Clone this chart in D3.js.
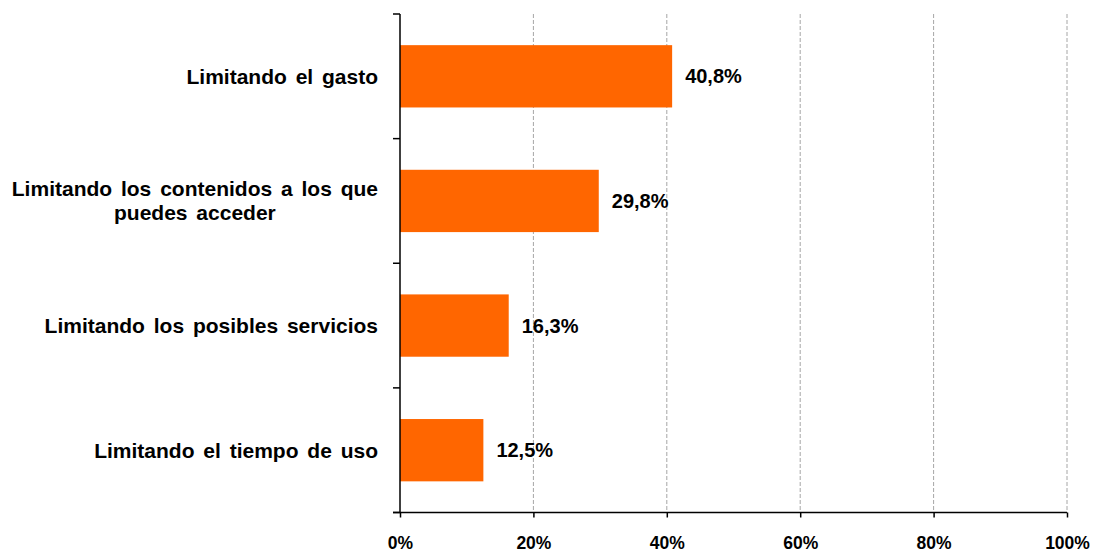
<!DOCTYPE html>
<html>
<head>
<meta charset="utf-8">
<script src="https://cdn.jsdelivr.net/npm/d3@7"></script>
<style>
  html, body { margin: 0; padding: 0; background: #fff; }
  svg { display: block; font-family: "Liberation Sans", Arial, sans-serif; }
</style>
</head>
<body>
<svg id="chart" width="1096" height="552"></svg>
<script>
// Categories (top to bottom); multi-line labels split with "\n"
const categories = [
  "Limitando el gasto",
  "Limitando los contenidos a los que\npuedes acceder",
  "Limitando los posibles servicios",
  "Limitando el tiempo de uso"
];
const values = [40.8, 29.8, 16.3, 12.5];
const valueLabels = ["40,8%", "29,8%", "16,3%", "12,5%"];
const xTicks = [0, 20, 40, 60, 80, 100];
const xTickLabels = ["0%", "20%", "40%", "60%", "80%", "100%"];

const svg = d3.select("#chart");
const plot = { left: 400, right: 1067, top: 14, bottom: 512.5 };

const x = d3.scaleLinear().domain([0, 100]).range([plot.left, plot.right]);
const y = d3.scaleBand().domain(categories).range([plot.top, plot.bottom]).paddingInner(0.5).paddingOuter(0.25);
const yOuter = d3.scaleBand().domain(categories).range([plot.top, plot.bottom]);

// Dashed vertical gridlines
svg.append("g").selectAll("line")
  .data(xTicks.filter(d => d > 0))
  .join("line")
  .attr("x1", d => x(d)).attr("x2", d => x(d))
  .attr("y1", plot.top).attr("y2", plot.bottom)
  .attr("stroke", "#a6a6a6").attr("stroke-width", 1)
  .attr("stroke-dasharray", "4,2");

// Bars
svg.append("g").selectAll("rect")
  .data(categories)
  .join("rect")
  .attr("x", x(0))
  .attr("y", d => y(d))
  .attr("width", (d, i) => x(values[i]) - x(0))
  .attr("height", y.bandwidth())
  .attr("fill", "#ff6600");

// Value labels
svg.append("g").selectAll("text")
  .data(categories)
  .join("text")
  .attr("x", (d, i) => x(values[i]) + 13)
  .attr("y", d => y(d) + y.bandwidth() / 2)
  .attr("dy", "0.35em")
  .attr("font-size", 20)
  .attr("font-weight", "bold")
  .attr("fill", "#000")
  .text((d, i) => valueLabels[i]);

// X axis
const xAxis = d3.axisBottom(x)
  .tickValues(xTicks)
  .tickFormat((d, i) => xTickLabels[i])
  .tickSize(5)
  .tickSizeOuter(0)
  .tickPadding(0);
const gx = svg.append("g").attr("transform", `translate(0,${plot.bottom})`).call(xAxis);
gx.select(".domain").attr("stroke", "#000").attr("stroke-width", 1.5)
  .attr("d", `M${plot.left - 7},0H${plot.right}`);
gx.selectAll(".tick line").attr("stroke", "#000").attr("stroke-width", 1.5);
gx.selectAll(".tick text")
  .attr("y", 36.5).attr("dy", null)
  .attr("font-size", 17.5).attr("font-weight", "bold").attr("fill", "#000")
  .attr("font-family", "'Liberation Sans', Arial, sans-serif");

// Y axis: vertical line with ticks at category boundaries
const gy = svg.append("g");
gy.append("line")
  .attr("x1", plot.left).attr("x2", plot.left)
  .attr("y1", plot.top).attr("y2", plot.bottom)
  .attr("stroke", "#000").attr("stroke-width", 1.5);
const boundaries = categories.map(d => yOuter(d)).concat([plot.bottom]);
gy.selectAll("line.tick")
  .data(boundaries)
  .join("line")
  .attr("class", "tick")
  .attr("x1", plot.left - 7).attr("x2", plot.left)
  .attr("y1", d => d).attr("y2", d => d)
  .attr("stroke", "#000").attr("stroke-width", 1.5);

// Category labels, right-aligned block, centred lines
const labelRight = 378;
const lineH = 24;
categories.forEach(cat => {
  const lines = cat.split("\n");
  const g = svg.append("g");
  const cy = y(cat) + y.bandwidth() / 2;
  const texts = lines.map((ln, i) => g.append("text")
    .attr("y", cy + (i - (lines.length - 1) / 2) * lineH)
    .attr("dy", "0.35em")
    .attr("font-size", 21)
    .attr("font-weight", "bold")
    .attr("word-spacing", 3)
    .attr("fill", "#000")
    .attr("text-anchor", "middle")
    .text(ln));
  const maxW = d3.max(texts, t => t.node().getBBox().width);
  texts.forEach(t => t.attr("x", labelRight - maxW / 2));
});
</script>
</body>
</html>
